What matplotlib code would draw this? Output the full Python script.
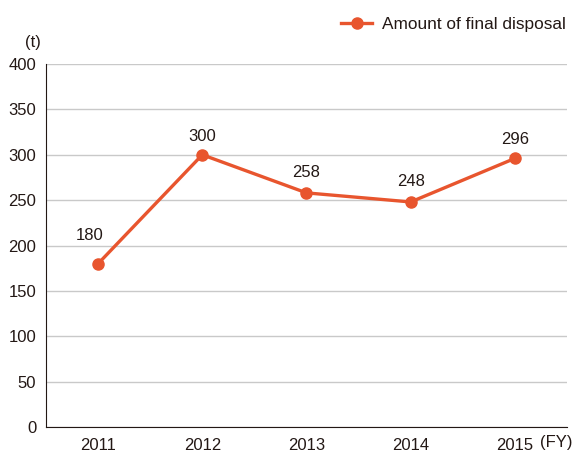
import matplotlib.pyplot as plt

years = ['2011', '2012', '2013', '2014', '2015']
disposal = [180, 300, 258, 248, 296]
yticks = [0, 50, 100, 150, 200, 250, 300, 350, 400]

orange = '#e8552e'
text_col = '#231815'

plt.rcParams['font.family'] = ['Liberation Sans', 'DejaVu Sans']
plt.rcParams['font.size'] = 12

fig = plt.figure(figsize=(5.73, 4.55), dpi=100)
ax = fig.add_axes([0.0803, 0.0615, 0.9092, 0.7978])

x = list(range(len(years)))
ax.plot(x, disposal, color=orange, lw=2.4, marker='o', ms=8,
        label='Amount of final disposal', zorder=3)

# value labels above each point
offsets = [(-6, 15), (0, 8), (0, 9), (0, 9), (0, 8)]
for xi, v, off in zip(x, disposal, offsets):
    ax.annotate(str(v), (xi, v), xytext=off, textcoords='offset points',
                ha='center', va='bottom', color=text_col, fontsize=12)

ax.set_xlim(-0.5, 4.5)
ax.set_ylim(0, 400)
ax.set_yticks(yticks)
ax.set_xticks(x)
ax.set_xticklabels(years)
ax.grid(axis='y', color='#c9c9c9', lw=1)
ax.set_axisbelow(True)
for s in ['top', 'right']:
    ax.spines[s].set_visible(False)
ax.spines['left'].set_color(text_col)
ax.spines['bottom'].set_color(text_col)
ax.tick_params(length=0, colors=text_col, labelsize=12)
ax.tick_params(axis='x', pad=8)
ax.tick_params(axis='y', pad=7)

ax.text(-0.025, 1.058, '(t)', transform=ax.transAxes, ha='center', va='center',
        color=text_col, fontsize=12)
ax.text(4.40, -0.044, '(FY)', transform=ax.get_xaxis_transform(), ha='center',
        va='center', color=text_col, fontsize=12, clip_on=False)

leg = ax.legend(loc='lower right', bbox_to_anchor=(1.012, 1.068), frameon=False,
                handlelength=1.85, handletextpad=0.58, borderaxespad=0,
                fontsize=12.4, labelcolor=text_col)

fig.savefig('out.png', dpi=100)
